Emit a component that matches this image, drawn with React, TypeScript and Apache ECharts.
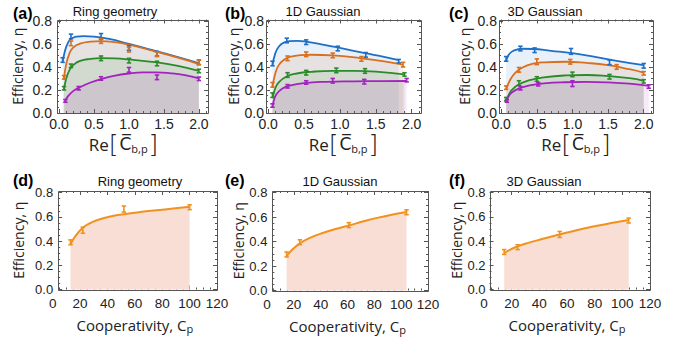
import React, { useEffect, useRef } from 'react';
import * as echarts from 'echarts';

// ---------------- colours ----------------
const BLUE = '#1f6fc6';
const ORANGE = '#d8701f';
const GREEN = '#2b8a2b';
const PURPLE = '#a323bf';
const GOLD = '#f0921d';
const GOLD_FILL = '#f9ded6';
const FRAME = '#555555';
const INK = '#222222';

// ---------------- tick labels ----------------
const TOP_X_LABELS = [0, 0.5, 1, 1.5, 2];
const TOP_X_MINOR = [0.1, 0.2, 0.3, 0.4, 0.6, 0.7, 0.8, 0.9, 1.1, 1.2, 1.3, 1.4, 1.6, 1.7, 1.8, 1.9, 2.1];
const Y_LABELS = [0, 0.2, 0.4, 0.6, 0.8];
const Y_MINOR = [0.05, 0.1, 0.15, 0.25, 0.3, 0.35, 0.45, 0.5, 0.55, 0.65, 0.7, 0.75];
const BOT_X_LABELS = [0, 20, 40, 60, 80, 100, 120];
const BOT_X_TICKS = [20, 40, 60, 80, 100, 120];
const BOT_X_MINOR = [5, 10, 15, 25, 30, 35, 45, 50, 55, 65, 70, 75, 85, 90, 95, 105, 110, 115];

const TITLES = ['Ring geometry', '1D Gaussian', '3D Gaussian'];
const TAGS = ['(a)', '(b)', '(c)', '(d)', '(e)', '(f)'];

// ---------------- (a) Ring geometry : fit curves [x, y] and points [x, y, err] ----------------
const aBlueFit = [[0.05, 0.44], [0.08, 0.53], [0.12, 0.6], [0.17, 0.643], [0.25, 0.663], [0.35, 0.668], [0.5, 0.664], [0.7, 0.645], [1.0, 0.6], [1.4, 0.535], [1.7, 0.485], [2.0, 0.433]];
const aBluePts = [[0.05, 0.46, 0.02], [0.17, 0.665, 0.02], [0.6, 0.665, 0.025], [1.0, 0.565, 0.02], [1.4, 0.515, 0.02], [2.0, 0.44, 0.02]];
const aOrangeFit = [[0.07, 0.29], [0.1, 0.42], [0.15, 0.52], [0.2, 0.568], [0.3, 0.603], [0.45, 0.62], [0.6, 0.624], [0.8, 0.615], [1.0, 0.593], [1.4, 0.53], [1.7, 0.48], [2.0, 0.425]];
const aOrangePts = [[0.07, 0.31, 0.015], [0.17, 0.605, 0.02], [0.6, 0.625, 0.02], [1.0, 0.55, 0.02], [1.4, 0.51, 0.02], [2.0, 0.44, 0.02]];
const aGreenFit = [[0.07, 0.2], [0.1, 0.295], [0.15, 0.375], [0.2, 0.415], [0.3, 0.452], [0.45, 0.47], [0.6, 0.476], [0.8, 0.474], [1.0, 0.465], [1.4, 0.44], [1.7, 0.41], [2.0, 0.365]];
const aGreenPts = [[0.07, 0.215, 0.015], [0.17, 0.41, 0.015], [0.6, 0.475, 0.02], [1.0, 0.455, 0.02], [1.4, 0.43, 0.02], [2.0, 0.365, 0.015]];
const aPurpleFit = [[0.08, 0.09], [0.12, 0.14], [0.2, 0.19], [0.3, 0.225], [0.45, 0.265], [0.6, 0.295], [0.8, 0.325], [1.0, 0.343], [1.2, 0.352], [1.4, 0.353], [1.6, 0.345], [1.8, 0.328], [2.0, 0.3]];
const aPurplePts = [[0.09, 0.105, 0.012], [0.28, 0.215, 0.015], [0.6, 0.3, 0.015], [1.0, 0.375, 0.02], [1.4, 0.31, 0.02], [2.0, 0.297, 0.015]];

// ---------------- (b) 1D Gaussian ----------------
const bBlueFit = [[0.06, 0.41], [0.1, 0.52], [0.15, 0.578], [0.22, 0.612], [0.3, 0.625], [0.4, 0.627], [0.55, 0.618], [0.8, 0.59], [1.0, 0.565], [1.35, 0.52], [1.6, 0.49], [1.82, 0.46]];
const bBluePts = [[0.06, 0.43, 0.02], [0.26, 0.63, 0.02], [0.53, 0.615, 0.02], [0.97, 0.56, 0.02], [1.36, 0.505, 0.02], [1.82, 0.45, 0.015]];
const bOrangeFit = [[0.06, 0.22], [0.1, 0.345], [0.15, 0.418], [0.22, 0.462], [0.3, 0.487], [0.45, 0.503], [0.6, 0.506], [0.9, 0.5], [1.3, 0.475], [1.6, 0.45], [1.88, 0.42]];
const bOrangePts = [[0.06, 0.245, 0.02], [0.27, 0.475, 0.02], [0.53, 0.51, 0.02], [0.9, 0.5, 0.02], [1.3, 0.47, 0.02], [1.88, 0.42, 0.02]];
const bGreenFit = [[0.06, 0.13], [0.1, 0.215], [0.15, 0.268], [0.25, 0.315], [0.4, 0.343], [0.6, 0.358], [0.9, 0.366], [1.2, 0.366], [1.5, 0.36], [1.9, 0.335]];
const bGreenPts = [[0.06, 0.155, 0.02], [0.27, 0.33, 0.02], [0.53, 0.35, 0.02], [0.95, 0.37, 0.02], [1.35, 0.365, 0.02], [1.9, 0.335, 0.015]];
const bPurpleFit = [[0.06, 0.05], [0.08, 0.11], [0.12, 0.168], [0.2, 0.213], [0.3, 0.238], [0.5, 0.26], [0.8, 0.271], [1.2, 0.275], [1.6, 0.277], [1.93, 0.278]];
const bPurplePts = [[0.06, 0.065, 0.015], [0.27, 0.232, 0.015], [0.53, 0.265, 0.015], [0.9, 0.28, 0.02], [1.34, 0.272, 0.02], [1.93, 0.285, 0.015]];

// ---------------- (c) 3D Gaussian ----------------
const cBlueFit = [[0.07, 0.45], [0.1, 0.5], [0.15, 0.533], [0.22, 0.551], [0.3, 0.558], [0.45, 0.556], [0.7, 0.54], [1.0, 0.52], [1.3, 0.49], [1.6, 0.455], [2.0, 0.415]];
const cBluePts = [[0.07, 0.47, 0.02], [0.27, 0.56, 0.02], [0.47, 0.545, 0.02], [0.98, 0.535, 0.025], [1.52, 0.44, 0.02], [2.0, 0.41, 0.02]];
const cOrangeFit = [[0.07, 0.2], [0.12, 0.28], [0.2, 0.35], [0.3, 0.395], [0.45, 0.428], [0.6, 0.44], [0.9, 0.445], [1.2, 0.435], [1.5, 0.415], [1.8, 0.38], [2.0, 0.35]];
const cOrangePts = [[0.07, 0.22, 0.015], [0.25, 0.375, 0.02], [0.5, 0.445, 0.025], [0.97, 0.445, 0.02], [1.62, 0.4, 0.02], [2.0, 0.345, 0.015]];
const cGreenFit = [[0.07, 0.1], [0.1, 0.15], [0.15, 0.2], [0.25, 0.25], [0.4, 0.285], [0.6, 0.31], [0.9, 0.326], [1.2, 0.33], [1.5, 0.321], [1.8, 0.302], [2.0, 0.28]];
const cGreenPts = [[0.07, 0.12, 0.015], [0.25, 0.26, 0.02], [0.5, 0.295, 0.02], [1.0, 0.335, 0.02], [1.52, 0.315, 0.02], [2.0, 0.275, 0.015]];
const cPurpleFit = [[0.07, 0.09], [0.1, 0.14], [0.15, 0.178], [0.25, 0.213], [0.4, 0.24], [0.6, 0.257], [0.9, 0.267], [1.2, 0.27], [1.5, 0.266], [1.8, 0.255], [2.07, 0.235]];
const cPurplePts = [[0.08, 0.105, 0.012], [0.27, 0.215, 0.015], [0.52, 0.25, 0.015], [1.0, 0.255, 0.025], [2.07, 0.23, 0.015]];

// ---------------- (d)(e)(f) efficiency vs cooperativity ----------------
const dFit = [[13, 0.37], [15, 0.415], [18, 0.462], [22, 0.51], [27, 0.547], [33, 0.575], [42, 0.603], [52, 0.622], [64, 0.64], [76, 0.655], [88, 0.669], [100, 0.683]];
const dPts = [[13, 0.39, 0.02], [22, 0.49, 0.025], [52, 0.665, 0.025], [100, 0.68, 0.02]];
const eFit = [[14.6, 0.28], [18, 0.325], [24.5, 0.385], [32, 0.43], [42, 0.472], [52, 0.505], [62, 0.535], [72, 0.566], [82, 0.594], [93, 0.62], [104, 0.642]];
const ePts = [[14.6, 0.295, 0.02], [24.5, 0.395, 0.02], [61, 0.535, 0.02], [104, 0.64, 0.02]];
const fFit = [[14.6, 0.3], [19, 0.33], [24.3, 0.356], [32, 0.385], [42, 0.417], [54.7, 0.455], [67, 0.49], [80, 0.522], [92, 0.55], [104.6, 0.575]];
const fPts = [[14.6, 0.31, 0.02], [24.3, 0.35, 0.02], [54.7, 0.455, 0.025], [104.6, 0.57, 0.02]];

// ---------------- layout (pixels) ----------------
const TOP_X_RANGE = [-0.03, 2.13];
const BOT_X_RANGE = [0, 120];
const BOT_FRAME_X0 = 4;
const TOP_Y_MAX = 0.812;
const BOT_Y_MAX = 0.814;

const PANELS = [
  { row: 0, left: 57, top: 19.5, width: 151, height: 93.5, tagX: 13, tagY: 13, titleX: 115, titleY: 11, yGap: 33, yMargin: 5, xNamePadRight: 18 },
  { row: 0, left: 266, top: 19.5, width: 155, height: 93.5, tagX: 225, tagY: 13, titleX: 323, titleY: 11, yGap: 21, yMargin: 2, xNamePadRight: 0 },
  { row: 0, left: 499, top: 19.5, width: 154, height: 93.5, tagX: 449, tagY: 13, titleX: 545, titleY: 11, yGap: 28, yMargin: 2, xNamePadRight: 0 },
  { row: 1, left: 52.7, top: 191, width: 164.3, height: 98.5, tagX: 13, tagY: 180, titleX: 140, titleY: 181, yGap: 33, yMargin: 5, xNamePadRight: 0 },
  { row: 1, left: 267, top: 191, width: 161, height: 99.5, tagX: 225, tagY: 180, titleX: 340, titleY: 181, yGap: 26, yMargin: 5, xNamePadRight: 0 },
  { row: 1, left: 484, top: 191, width: 166, height: 98.5, tagX: 449, tagY: 180, titleX: 544, titleY: 181, yGap: 26, yMargin: 4, xNamePadRight: 0 },
];

const TICK_FONT = '"Liberation Sans", Arial, sans-serif';
const NAME_FONT = '"Open Sans", "Noto Sans", sans-serif';

const RE_NAME = '{r|Re}{b|[}{c|C\u0305}{s|b,p}{b|]}';
const RE_RICH = {
  r: { fontSize: 17, fontFamily: NAME_FONT, color: INK, verticalAlign: 'middle', lineHeight: 26 },
  b: { fontSize: 25, fontFamily: '"DejaVu Sans", sans-serif', fontWeight: 200, color: INK, verticalAlign: 'middle', lineHeight: 26 },
  c: { fontSize: 17, fontFamily: '"DejaVu Sans", sans-serif', color: INK, verticalAlign: 'middle', lineHeight: 26, padding: [0, 0, 0, 1] },
  s: { fontSize: 11, fontFamily: NAME_FONT, color: INK, verticalAlign: 'middle', lineHeight: 26, padding: [9, 1, 0, 0] },
};
const CP_NAME = '{m|Cooperativity, C}{s|p}';
const CP_RICH = {
  m: { fontSize: 15, fontFamily: NAME_FONT, color: INK, verticalAlign: 'middle', lineHeight: 20 },
  s: { fontSize: 11, fontFamily: NAME_FONT, color: INK, verticalAlign: 'middle', lineHeight: 20, padding: [8, 0, 0, 0] },
};

function buildAxes(gi: number, p: any) {
  const top = p.row === 0;
  const xr = top ? TOP_X_RANGE : BOT_X_RANGE;
  const yMax = top ? TOP_Y_MAX : BOT_Y_MAX;
  const inset = top ? 0 : ((BOT_FRAME_X0 - xr[0]) / (xr[1] - xr[0])) * p.width;
  const xMajor = top ? TOP_X_LABELS : BOT_X_TICKS;
  const xMinor = top ? TOP_X_MINOR : BOT_X_MINOR;
  const base = (extra: any) => ({
    type: 'value',
    gridIndex: gi,
    splitLine: { show: false },
    axisLine: { show: false, onZero: false },
    ...extra,
  });
  const tick = (vals: number[], len: number) => ({
    show: true, inside: true, length: len, customValues: vals, lineStyle: { color: FRAME, width: 1 },
  });
  const xs = [
    base({
      min: xr[0], max: xr[1], position: 'bottom',
      axisTick: tick(xMajor, 4),
      axisLabel: {
        show: true, customValues: top ? TOP_X_LABELS : BOT_X_LABELS,
        formatter: (v: number) => (top ? v.toFixed(1) : String(v)),
        fontSize: top ? 14 : 13.5, fontFamily: TICK_FONT, color: INK, margin: top ? 4 : 7,
      },
      name: top ? RE_NAME : CP_NAME,
      nameLocation: 'middle',
      nameGap: top ? 16 : 25,
      nameTextStyle: { rich: top ? RE_RICH : CP_RICH, padding: [0, p.xNamePadRight, 0, 0] },
    }),
    base({ min: xr[0], max: xr[1], position: 'bottom', axisTick: tick(xMinor, 2), axisLabel: { show: false } }),
    base({ min: xr[0], max: xr[1], position: 'top', axisTick: tick(xMajor, 4), axisLabel: { show: false } }),
    base({ min: xr[0], max: xr[1], position: 'top', axisTick: tick(xMinor, 2), axisLabel: { show: false } }),
  ];
  const ys = [
    base({
      min: 0, max: yMax, position: 'left', offset: -inset,
      axisTick: tick(Y_LABELS, 4),
      axisLabel: {
        show: true, customValues: Y_LABELS, formatter: (v: number) => v.toFixed(1),
        fontSize: top ? 14 : 13, fontFamily: TICK_FONT, color: INK, margin: p.yMargin,
      },
      name: 'Efficiency, \u03b7',
      nameLocation: 'middle',
      nameGap: p.yGap,
      nameTextStyle: { fontSize: 14, fontFamily: NAME_FONT, color: INK },
    }),
    base({ min: 0, max: yMax, position: 'left', offset: -inset, axisTick: tick(Y_MINOR, 2), axisLabel: { show: false } }),
    base({ min: 0, max: yMax, position: 'right', axisTick: tick(Y_LABELS, 4), axisLabel: { show: false } }),
    base({ min: 0, max: yMax, position: 'right', axisTick: tick(Y_MINOR, 2), axisLabel: { show: false } }),
  ];
  return { xs, ys, inset };
}

function fitSeries(gi: number, data: number[][], color: string, fill: string, opacity: number, width = 1.8) {
  return {
    type: 'line', xAxisIndex: gi * 4, yAxisIndex: gi * 4, data,
    smooth: 0.5, showSymbol: false, symbol: 'none', silent: true, z: 2,
    lineStyle: { color, width }, itemStyle: { color },
    areaStyle: { color: fill, opacity },
  };
}

function errSeries(gi: number, data: number[][], color: string) {
  return {
    type: 'custom', xAxisIndex: gi * 4, yAxisIndex: gi * 4, data, encode: { x: 0, y: 1 }, z: 3, silent: true,
    renderItem: (_params: any, api: any) => {
      const x = api.value(0), y = api.value(1), e = api.value(2);
      const p1 = api.coord([x, y + e]);
      const p2 = api.coord([x, y - e]);
      const w = 2.2;
      const st = { stroke: color, lineWidth: 1.6 };
      return {
        type: 'group',
        children: [
          { type: 'line', shape: { x1: p1[0], y1: p1[1], x2: p2[0], y2: p2[1] }, style: st },
          { type: 'line', shape: { x1: p1[0] - w, y1: p1[1], x2: p1[0] + w, y2: p1[1] }, style: st },
          { type: 'line', shape: { x1: p2[0] - w, y1: p2[1], x2: p2[0] + w, y2: p2[1] }, style: st },
        ],
      };
    },
  };
}

const TOP_SETS = [
  [[aBlueFit, aBluePts], [aOrangeFit, aOrangePts], [aGreenFit, aGreenPts], [aPurpleFit, aPurplePts]],
  [[bBlueFit, bBluePts], [bOrangeFit, bOrangePts], [bGreenFit, bGreenPts], [bPurpleFit, bPurplePts]],
  [[cBlueFit, cBluePts], [cOrangeFit, cOrangePts], [cGreenFit, cGreenPts], [cPurpleFit, cPurplePts]],
];
const BOT_SETS = [[dFit, dPts], [eFit, ePts], [fFit, fPts]];
const TOP_COLORS = [BLUE, ORANGE, GREEN, PURPLE];

function buildOption() {
  const grid: any[] = [];
  const xAxis: any[] = [];
  const yAxis: any[] = [];
  const series: any[] = [];
  const graphic: any[] = [];

  PANELS.forEach((p, gi) => {
    grid.push({ left: p.left, top: p.top, width: p.width, height: p.height, containLabel: false });
    const { xs, ys, inset } = buildAxes(gi, p);
    xAxis.push(...xs);
    yAxis.push(...ys);

    if (p.row === 0) {
      TOP_SETS[gi].forEach(([fit], k) => {
        series.push(fitSeries(gi, fit, TOP_COLORS[k], TOP_COLORS[k], 0.1));
      });
      TOP_SETS[gi].forEach(([, pts], k) => {
        series.push(errSeries(gi, pts, TOP_COLORS[k]));
      });
    } else {
      const [fit, pts] = BOT_SETS[gi - 3];
      series.push(fitSeries(gi, fit, GOLD, GOLD_FILL, 1, 2));
      series.push(errSeries(gi, pts, GOLD));
    }

    // frame
    const fx = Math.round(p.left + inset) + 0.5;
    const fy = Math.round(p.top) + 0.5;
    const fw = Math.round(p.left + p.width) - Math.round(p.left + inset);
    const fh = Math.round(p.top + p.height) - Math.round(p.top);
    graphic.push({
      type: 'rect', silent: true, z: 100,
      shape: { x: fx, y: fy, width: fw, height: fh },
      style: { fill: 'none', stroke: FRAME, lineWidth: 1 },
    });
    graphic.push({
      type: 'text', silent: true, z: 100, x: p.tagX, y: p.tagY,
      style: { text: TAGS[gi], fill: '#000', fontSize: 16, fontWeight: 'bold', fontFamily: TICK_FONT, align: 'left', verticalAlign: 'middle' },
    });
    graphic.push({
      type: 'text', silent: true, z: 100, x: p.titleX, y: p.titleY,
      style: { text: TITLES[gi % 3], fill: '#111', fontSize: 13, fontFamily: TICK_FONT, align: 'center', verticalAlign: 'middle' },
    });
  });

  return { animation: false, backgroundColor: '#ffffff', grid, xAxis, yAxis, series, graphic };
}

export default function App() {
  const ref = useRef<HTMLDivElement>(null);
  useEffect(() => {
    if (!ref.current) return;
    const chart = echarts.init(ref.current, null, { renderer: 'svg' });
    chart.setOption(buildOption() as any);
    return () => chart.dispose();
  }, []);
  return (
    <div
      ref={ref}
      style={{ position: 'fixed', left: 0, top: 0, width: 696, height: 341, background: '#fff' }}
    />
  );
}
